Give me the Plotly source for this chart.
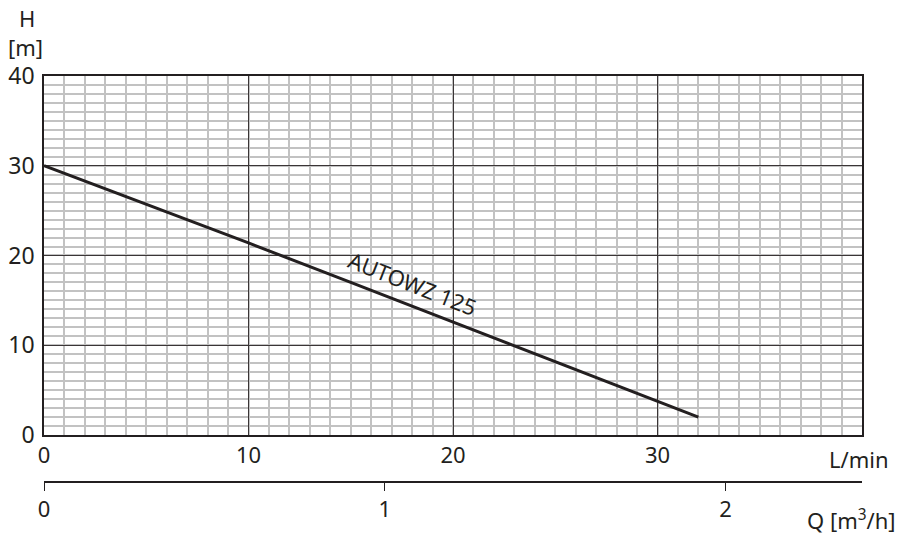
import plotly.graph_objects as go

# Data
flow_lmin = [0, 5, 10, 15, 20, 25, 30, 32]
head_m = [30, 25.7, 21.4, 17.0, 12.6, 8.2, 3.8, 2.0]
curve_label = "AUTOWZ 125"
x_ticks = [0, 10, 20, 30]
y_ticks = [0, 10, 20, 30, 40]
q_ticks = [0, 1, 2]
LMIN_PER_M3H = 1000 / 60

FONT = "Noto Sans"
INK = "#231f20"

fig = go.Figure()
fig.add_trace(go.Scatter(x=flow_lmin, y=head_m, mode="lines",
                         line=dict(color=INK, width=3), showlegend=False,
                         hoverinfo="skip"))
# invisible trace for the secondary axis
fig.add_trace(go.Scatter(x=[0, 2], y=[None, None], xaxis="x2", yaxis="y",
                         mode="lines", showlegend=False, hoverinfo="skip"))

fig.update_layout(
    width=902, height=534,
    margin=dict(l=44, r=40, t=76, b=52, autoexpand=False),
    paper_bgcolor="white", plot_bgcolor="white",
    font=dict(family=FONT, color=INK, size=22),
    xaxis=dict(
        range=[0, 40], tickvals=x_ticks, ticktext=[str(v) for v in x_ticks],
        showgrid=True, gridcolor="#3a3536", gridwidth=1,
        minor=dict(dtick=1, showgrid=True, gridcolor="#c2c2c2", gridwidth=1.5, tick0=0),
        showline=True, linecolor=INK, linewidth=1.5, mirror=True,
        ticks="", zeroline=False, anchor="y", automargin=False,
        tickfont=dict(size=22),
    ),
    yaxis=dict(
        range=[0, 40], tickvals=y_ticks, ticktext=[str(v) for v in y_ticks],
        domain=[0.1158, 1],
        showgrid=True, gridcolor="#3a3536", gridwidth=1,
        minor=dict(dtick=1, showgrid=True, gridcolor="#c2c2c2", gridwidth=1.5, tick0=0),
        showline=True, linecolor=INK, linewidth=1.5, mirror=True,
        ticks="", zeroline=False, ticklabelstandoff=3, automargin=False,
        tickfont=dict(size=23),
    ),
    xaxis2=dict(
        range=[0, 40 / LMIN_PER_M3H], tickvals=q_ticks,
        ticktext=[str(v) for v in q_ticks],
        overlaying="x", anchor="free", position=0, side="bottom",
        showgrid=False, zeroline=False, automargin=False,
        showline=True, linecolor=INK, linewidth=1.5,
        ticks="outside", ticklen=8, tickwidth=1.2, tickcolor=INK,
        tickfont=dict(size=22),
    ),
    annotations=[
        dict(text=curve_label, x=18.0, y=16.9, xref="x", yref="y",
             showarrow=False, textangle=21.5, font=dict(size=22, color=INK)),
    ],
)

# unit labels, placed by their pixel position converted to paper coordinates
plot_l, plot_r, plot_t, plot_b = 44, 902 - 40, 76, 534 - 52
pw, ph = plot_r - plot_l, plot_b - plot_t
def to_paper(px, py):
    return (px - plot_l) / pw, (plot_b - py) / ph
for text, px, py, xa in [("L/min", 891, 459, "right"),
                         ("Q [m<sup>3</sup>/h]", 898, 519, "right"),
                         ("H", 27, 18, "center"),
                         ("[m]", 25, 47, "center")]:
    x, y = to_paper(px, py)
    fig.add_annotation(text=text, x=x, y=y, xref="paper", yref="paper",
                       xanchor=xa, yanchor="middle", showarrow=False,
                       font=dict(size=22, color=INK))

fig.write_html("out.html", config={"displayModeBar": False},
               post_script="document.body.style.margin='0';document.body.style.overflow='hidden';")
